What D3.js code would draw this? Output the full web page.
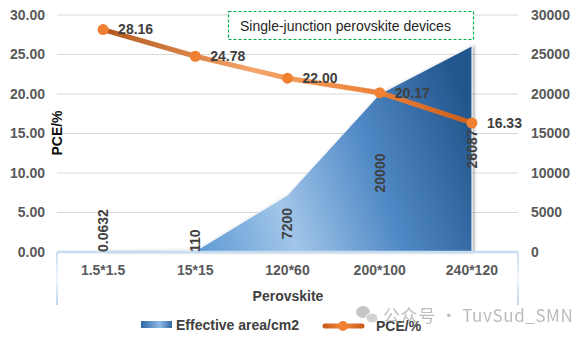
<!DOCTYPE html>
<html>
<head>
<meta charset="utf-8">
<script src="https://cdn.jsdelivr.net/npm/d3@7"></script>
<style>
  html, body { margin: 0; padding: 0; background: #fff; }
  svg { display: block; font-family: "Liberation Sans", Arial, sans-serif; }
</style>
</head>
<body>
<div id="chart"></div>
<script>
// chart data
const categories = ['1.5*1.5', '15*15', '120*60', '200*100', '240*120'];
const areaValues = [0.0632, 110, 7200, 20000, 26087];
const areaLabels = ['0.0632', '110', '7200', '20000', '26087'];
const pceValues = [28.16, 24.78, 22.00, 20.17, 16.33];
const leftTicks = [0, 5, 10, 15, 20, 25, 30];
const rightTicks = [0, 5000, 10000, 15000, 20000, 25000, 30000];

const width = 576, height = 339;
const margin = { left: 57, right: 58, top: 15, bottom: 87 };
const x0 = margin.left, x1 = width - margin.right;
const yTop = margin.top, yBot = height - margin.bottom;

const svg = d3.select('#chart').append('svg')
  .attr('width', width)
  .attr('height', height);

const defs = svg.append('defs');

// blue fill of the area
const areaGrad = defs.append('linearGradient')
  .attr('id', 'areaGrad')
  .attr('gradientUnits', 'userSpaceOnUse')
  .attr('x1', 190).attr('y1', 252).attr('x2', 480).attr('y2', 150);
areaGrad.append('stop').attr('offset', '0%').attr('stop-color', '#5896d2');
areaGrad.append('stop').attr('offset', '33%').attr('stop-color', '#a2c6e9');
areaGrad.append('stop').attr('offset', '65%').attr('stop-color', '#518ac6');
areaGrad.append('stop').attr('offset', '100%').attr('stop-color', '#24578f');

const legGrad = defs.append('linearGradient').attr('id', 'legGrad');
legGrad.append('stop').attr('offset', '0%').attr('stop-color', '#2f66a3');
legGrad.append('stop').attr('offset', '60%').attr('stop-color', '#8fbbe6');
legGrad.append('stop').attr('offset', '100%').attr('stop-color', '#2f66a3');

// orange line shading
const lineGrad = defs.append('linearGradient')
  .attr('id', 'lineGrad')
  .attr('gradientUnits', 'userSpaceOnUse')
  .attr('x1', 103).attr('y1', 0).attr('x2', 473).attr('y2', 0);
lineGrad.append('stop').attr('offset', '0%').attr('stop-color', '#b0561a');
lineGrad.append('stop').attr('offset', '40%').attr('stop-color', '#f4a56b');
lineGrad.append('stop').attr('offset', '70%').attr('stop-color', '#ee8640');
lineGrad.append('stop').attr('offset', '100%').attr('stop-color', '#c95d1a');

const legLine = defs.append('linearGradient').attr('id', 'legLine')
  .attr('gradientUnits', 'userSpaceOnUse')
  .attr('x1', 324).attr('y1', 0).attr('x2', 363).attr('y2', 0);
legLine.append('stop').attr('offset', '0%').attr('stop-color', '#c95d1a');
legLine.append('stop').attr('offset', '50%').attr('stop-color', '#f28a3e');
legLine.append('stop').attr('offset', '100%').attr('stop-color', '#c95d1a');

const frameGrad = defs.append('linearGradient').attr('id', 'frameGrad')
  .attr('x1', 0).attr('y1', 0).attr('x2', 0).attr('y2', 1);
frameGrad.append('stop').attr('offset', '0%').attr('stop-color', '#c9ddf1');
frameGrad.append('stop').attr('offset', '50%').attr('stop-color', '#f2f7fc');
frameGrad.append('stop').attr('offset', '100%').attr('stop-color', '#bcd5ee');

const shadow = defs.append('filter').attr('id', 'shadow')
  .attr('x', '-10%').attr('y', '-10%').attr('width', '120%').attr('height', '120%');
shadow.append('feDropShadow')
  .attr('dx', 2).attr('dy', 0).attr('stdDeviation', 1.6)
  .attr('flood-color', '#000').attr('flood-opacity', 0.35);

// scales
const x = d3.scalePoint().domain(categories).range([x0, x1]).padding(0.5);
const yL = d3.scaleLinear().domain([0, 30]).range([yBot, yTop]);
const yR = d3.scaleLinear().domain([0, 30000]).range([yBot, yTop]);

// gridlines
svg.append('g').selectAll('line')
  .data(leftTicks.filter(d => d > 0))
  .join('line')
  .attr('x1', x0).attr('x2', x1)
  .attr('y1', d => yL(d)).attr('y2', d => yL(d))
  .attr('stroke', '#d9d9d9').attr('stroke-width', 1);

// left axis
const leftAxis = svg.append('g')
  .attr('transform', `translate(${x0 - 12},0)`)
  .call(d3.axisLeft(yL).tickValues(leftTicks).tickFormat(d3.format('.2f')).tickSize(0).tickPadding(0));
leftAxis.select('.domain').remove();
leftAxis.selectAll('text')
  .attr('font-size', 14).attr('font-weight', 'bold').attr('fill', '#595959')
  .attr('font-family', '"Liberation Sans", Arial, sans-serif');

// right axis
const rightAxis = svg.append('g')
  .attr('transform', `translate(${x1 + 13},0)`)
  .call(d3.axisRight(yR).tickValues(rightTicks).tickFormat(d3.format('d')).tickSize(0).tickPadding(0));
rightAxis.select('.domain').remove();
rightAxis.selectAll('text')
  .attr('font-size', 14).attr('font-weight', 'bold').attr('fill', '#595959')
  .attr('font-family', '"Liberation Sans", Arial, sans-serif');

// effective area
const area = d3.area()
  .x((d, i) => x(categories[i]))
  .y0(yBot)
  .y1(d => yR(d));

svg.append('path')
  .datum(areaValues)
  .attr('d', area)
  .attr('fill', 'url(#areaGrad)')
  .attr('stroke', '#ffffff')
  .attr('stroke-width', 0.8)
  .attr('filter', 'url(#shadow)');

// category axis frame
svg.append('rect')
  .attr('x', x0 - 1).attr('y', yBot).attr('width', 2).attr('height', 53)
  .attr('fill', 'url(#frameGrad)');
svg.append('rect')
  .attr('x', x1 - 1).attr('y', yBot).attr('width', 2).attr('height', 53)
  .attr('fill', 'url(#frameGrad)');
svg.append('line')
  .attr('x1', x0).attr('x2', x1).attr('y1', yBot).attr('y2', yBot)
  .attr('stroke', '#c5dcf1').attr('stroke-width', 2.5);

// area value labels, rotated, centred on half the value but kept above the base
const areaLab = svg.append('g').selectAll('text')
  .data(areaValues)
  .join('text')
  .attr('font-size', 14).attr('font-weight', 'bold').attr('fill', '#404040')
  .attr('text-anchor', 'start')
  .attr('dy', '0.35em')
  .text((d, i) => areaLabels[i]);
areaLab.each(function (d, i) {
  const len = this.getComputedTextLength();
  const bottom = Math.min(yR(d / 2) + len / 2, yBot);
  d3.select(this).attr('transform', `translate(${x(categories[i])},${bottom}) rotate(-90)`);
});

// PCE line
const line = d3.line()
  .x((d, i) => x(categories[i]))
  .y(d => yL(d));

svg.append('path')
  .datum(pceValues)
  .attr('d', line)
  .attr('fill', 'none')
  .attr('stroke', 'url(#lineGrad)')
  .attr('stroke-width', 5)
  .attr('stroke-linejoin', 'round');

svg.append('g').selectAll('circle')
  .data(pceValues)
  .join('circle')
  .attr('cx', (d, i) => x(categories[i]))
  .attr('cy', d => yL(d))
  .attr('r', 5.5)
  .attr('fill', '#f08133');

svg.append('g').selectAll('text')
  .data(pceValues)
  .join('text')
  .attr('x', (d, i) => x(categories[i]) + 15)
  .attr('y', d => yL(d))
  .attr('dy', '0.35em')
  .attr('font-size', 14).attr('font-weight', 'bold').attr('fill', '#404040')
  .text(d => d3.format('.2f')(d));

// x tick labels
svg.append('g').selectAll('text')
  .data(categories)
  .join('text')
  .attr('x', d => x(d))
  .attr('y', 275)
  .attr('text-anchor', 'middle')
  .attr('font-size', 14).attr('font-weight', 'bold').attr('fill', '#595959')
  .text(d => d);

// axis titles
svg.append('text')
  .attr('x', 288).attr('y', 301)
  .attr('text-anchor', 'middle')
  .attr('font-size', 14).attr('font-weight', 'bold').attr('fill', '#404040')
  .text('Perovskite');

svg.append('text')
  .attr('transform', 'translate(62,133) rotate(-90)')
  .attr('text-anchor', 'middle')
  .attr('font-size', 14).attr('font-weight', 'bold').attr('fill', '#0d0d0d')
  .text('PCE/%');

// annotation box
svg.append('rect')
  .attr('x', 228.5).attr('y', 11.5).attr('width', 245).attr('height', 28)
  .attr('fill', '#fff')
  .attr('stroke', '#00b050').attr('stroke-width', 1.2)
  .attr('stroke-dasharray', '3,2');
svg.append('text')
  .attr('x', 240).attr('y', 31)
  .attr('font-size', 14).attr('fill', '#262626')
  .text('Single-junction perovskite devices');

// legend
svg.append('rect')
  .attr('x', 141).attr('y', 321).attr('width', 31).attr('height', 7)
  .attr('fill', 'url(#legGrad)');
svg.append('text')
  .attr('x', 176).attr('y', 330)
  .attr('font-size', 14).attr('font-weight', 'bold').attr('fill', '#404040')
  .text('Effective area/cm2');

svg.append('line')
  .attr('x1', 325).attr('x2', 362).attr('y1', 326).attr('y2', 326)
  .attr('stroke', 'url(#legLine)').attr('stroke-width', 5)
  .attr('stroke-linecap', 'round');
svg.append('circle')
  .attr('cx', 343).attr('cy', 326).attr('r', 5)
  .attr('fill', '#f08133');
svg.append('text')
  .attr('x', 376).attr('y', 331)
  .attr('font-size', 14).attr('font-weight', 'bold').attr('fill', '#404040')
  .text('PCE/%');

// watermark
const wm = svg.append('g').attr('opacity', 0.75);
wm.append('ellipse').attr('cx', 363).attr('cy', 312).attr('rx', 7).attr('ry', 6).attr('fill', '#b4b4b4');
wm.append('ellipse').attr('cx', 372).attr('cy', 318).attr('rx', 6).attr('ry', 5).attr('fill', '#c4c4c4')
  .attr('stroke', '#fff').attr('stroke-width', 1);
wm.append('text')
  .attr('x', 383).attr('y', 322)
  .attr('font-family', '"Noto Sans CJK SC", "Noto Sans", sans-serif')
  .attr('font-size', 17).attr('fill', '#a6a6a6')
  .attr('letter-spacing', 0.6)
  .text('公众号 · TuvSud_SMN');
</script>
</body>
</html>
